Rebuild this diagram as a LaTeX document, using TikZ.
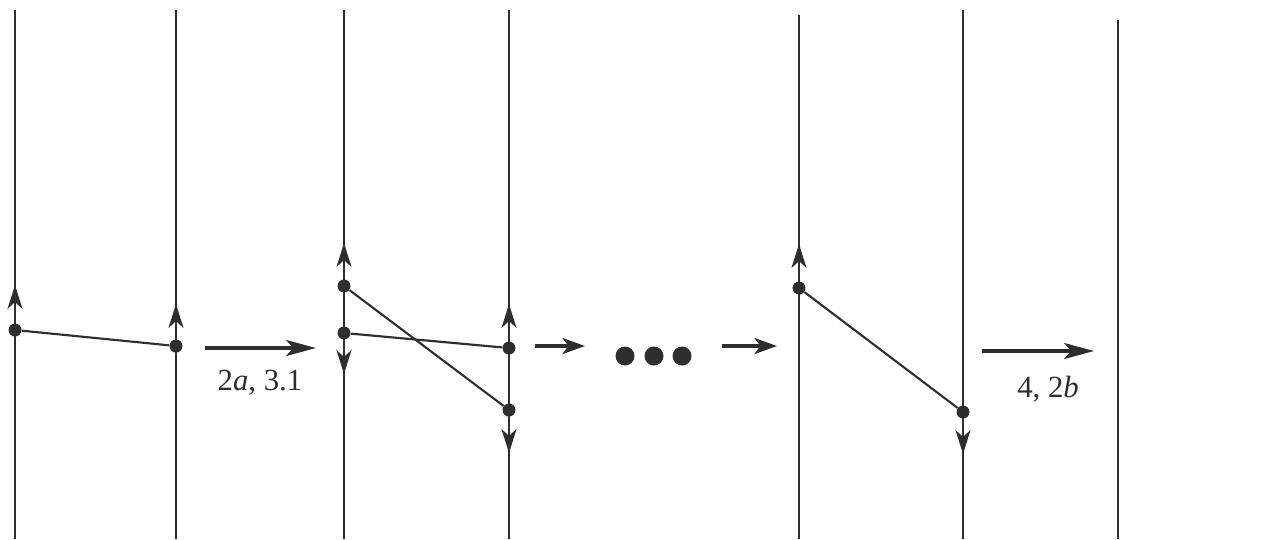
\documentclass[tikz,border=0pt]{standalone}
\usepackage{fontspec}
\setmainfont{Liberation Serif}
\usetikzlibrary{arrows.meta}
\definecolor{ink}{HTML}{2E2E2E}
\tikzset{
  strand/.style={ink,line width=1.1pt},
  bead/.style={circle,fill=ink,inner sep=0pt,minimum size=0.26cm},
  spin/.style={ink,line width=1.4pt,-{Stealth[length=0.48cm,width=0.3cm,inset=0.14cm]}},
  move/.style={ink,line width=2pt,-{Stealth[length=0.6cm,width=0.32cm,inset=0.15cm]}},
  hop/.style={ink,line width=2pt,-{Stealth[length=0.45cm,width=0.32cm,inset=0.12cm]}},
  rung/.style={ink,line width=1.2pt},
  tag/.style={ink,font=\fontsize{17.5}{20}\selectfont}
}
\begin{document}
\begin{tikzpicture}[x=0.02cm,y=-0.02cm]
\useasboundingbox (0,0) rectangle (1265,539);
% strands
\draw[strand] (15,10) -- (15,539);
\draw[strand] (176,10) -- (176,539);
\draw[strand] (344,10) -- (344,539);
\draw[strand] (509,10) -- (509,539);
\draw[strand] (799,15) -- (799,539);
\draw[strand] (963,10) -- (963,539);
\draw[strand] (1118,20) -- (1118,539);
% first panel
\node[bead] (a1) at (15,330) {};
\node[bead] (a2) at (176,346) {};
\coordinate (a1t) at (15,285);
\coordinate (a2t) at (176,304);
\draw[spin] (a1) -- (a1t);
\draw[spin] (a2) -- (a2t);
\draw[rung] (a1) -- (a2);
% second panel
\node[bead] (b1) at (344,286) {};
\node[bead] (b2) at (344,333) {};
\node[bead] (b3) at (509,348) {};
\node[bead] (b4) at (509,410) {};
\coordinate (b1t) at (344,243);
\coordinate (b2t) at (344,374);
\coordinate (b3t) at (509,304);
\coordinate (b4t) at (509,453);
\draw[spin] (b1) -- (b1t);
\draw[spin] (b2) -- (b2t);
\draw[spin] (b3) -- (b3t);
\draw[spin] (b4) -- (b4t);
\draw[rung] (b1) -- (b4);
\draw[rung] (b2) -- (b3);
% third panel
\node[bead] (c1) at (799,288) {};
\node[bead] (c2) at (963,412) {};
\coordinate (c1t) at (799,244);
\coordinate (c2t) at (963,454);
\draw[spin] (c1) -- (c1t);
\draw[spin] (c2) -- (c2t);
\draw[rung] (c1) -- (c2);
% moves between panels
\coordinate (m1s) at (205,348);
\coordinate (m1e) at (316,348);
\draw[move] (m1s) -- (m1e);
\node[tag] (m1l) at (260,383) {2\textit{a}, 3.1};
\coordinate (m2s) at (535,346);
\coordinate (m2e) at (585,346);
\draw[hop] (m2s) -- (m2e);
\node[bead,minimum size=0.38cm] (d1) at (625,356) {};
\node[bead,minimum size=0.38cm] (d2) at (654,356) {};
\node[bead,minimum size=0.38cm] (d3) at (682,356) {};
\coordinate (m3s) at (722,346);
\coordinate (m3e) at (777,346);
\draw[hop] (m3s) -- (m3e);
\coordinate (m4s) at (982,351);
\coordinate (m4e) at (1094,351);
\draw[move] (m4s) -- (m4e);
\node[tag] (m4l) at (1048,389) {4, 2\textit{b}};
\end{tikzpicture}
\end{document}
